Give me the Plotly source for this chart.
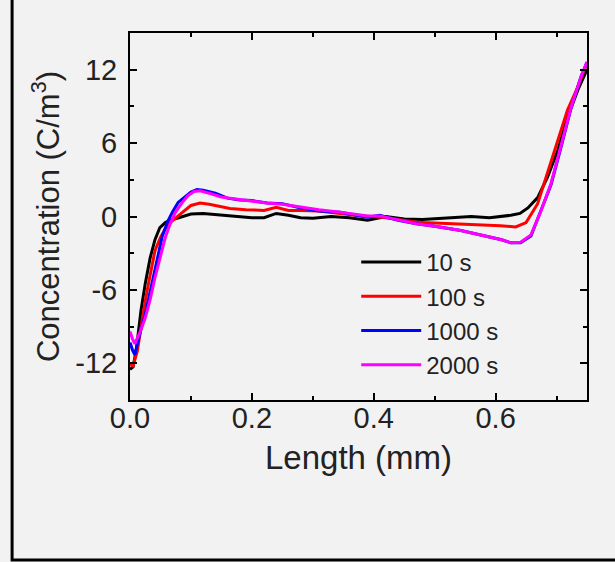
import plotly.graph_objects as go

series_names = ["10 s", "100 s", "1000 s", "2000 s"]
series_colors = ["#000000", "#ff0000", "#0000ff", "#ff00ff"]

x_10s = [0, 0.005, 0.01, 0.018, 0.025, 0.033, 0.041, 0.049, 0.058, 0.066, 0.08, 0.1, 0.12, 0.15, 0.18, 0.2, 0.22,
         0.24, 0.26, 0.28, 0.3, 0.33, 0.36, 0.39, 0.42, 0.45, 0.48, 0.51, 0.54, 0.56, 0.59, 0.61, 0.625, 0.64, 0.653,
         0.669, 0.685, 0.702, 0.718, 0.735, 0.75]
y_10s = [-12.5, -12.3, -11.0, -7.7, -5.5, -3.4, -1.9, -0.9, -0.5, -0.3, -0.1, 0.2, 0.25, 0.1, 0, -0.1, -0.1,
         0.25, 0.1, -0.1, -0.15, 0, -0.1, -0.3, 0, -0.2, -0.25, -0.15, -0.1, 0, -0.1, 0, 0.1, 0.25, 0.7,
         1.55, 3.2, 5.4, 8.1, 10.35, 12.0]

x_100s = [0, 0.005, 0.012, 0.02, 0.025, 0.033, 0.041, 0.05, 0.058, 0.066, 0.074, 0.09, 0.1, 0.115, 0.13, 0.15,
          0.164, 0.19, 0.22, 0.24, 0.26, 0.28, 0.31, 0.345, 0.38, 0.41, 0.44, 0.477, 0.51, 0.543, 0.575, 0.608,
          0.633, 0.65, 0.669, 0.685, 0.702, 0.718, 0.735, 0.75]
y_100s = [-12.1, -12.2, -11.0, -8.5, -6.9, -4.8, -2.8, -1.7, -1.0, -0.5, -0.15, 0.5, 0.9, 1.1, 1.0, 0.8,
          0.65, 0.55, 0.5, 0.75, 0.5, 0.5, 0.45, 0.25, 0.05, -0.05, -0.25, -0.5, -0.55, -0.6, -0.65, -0.75,
          -0.85, -0.5, 1.05, 3.5, 6.25, 8.7, 10.6, 12.55]

x_1000s = [0, 0.004, 0.008, 0.016, 0.025, 0.033, 0.041, 0.053, 0.062, 0.07, 0.079, 0.09, 0.1, 0.11, 0.12, 0.14,
           0.16, 0.18, 0.2, 0.225, 0.25, 0.28, 0.31, 0.345, 0.37, 0.39, 0.41, 0.44, 0.47, 0.5, 0.543, 0.57, 0.592,
           0.61, 0.625, 0.641, 0.658, 0.674, 0.691, 0.707, 0.724, 0.74, 0.75]
y_1000s = [-10.3, -10.9, -11.3, -9.6, -8.0, -6.2, -4.2, -1.6, -0.4, 0.4, 1.15, 1.6, 2.0, 2.2, 2.15, 1.9,
           1.5, 1.35, 1.3, 1.1, 1.05, 0.7, 0.45, 0.35, 0.1, -0.05, 0.1, -0.3, -0.6, -0.8, -1.15, -1.45, -1.7,
           -1.9, -2.15, -2.15, -1.6, 0.4, 2.6, 5.6, 8.9, 11.4, 12.6]

x_2000s = [0, 0.004, 0.008, 0.016, 0.025, 0.033, 0.041, 0.05, 0.058, 0.066, 0.074, 0.085, 0.095, 0.105, 0.115,
           0.13, 0.15, 0.17, 0.2, 0.225, 0.25, 0.28, 0.31, 0.345, 0.37, 0.39, 0.41, 0.44, 0.47, 0.5, 0.543, 0.57,
           0.592, 0.61, 0.625, 0.641, 0.658, 0.674, 0.691, 0.707, 0.724, 0.74, 0.75]
y_2000s = [-9.4, -10.0, -10.4, -9.5, -8.3, -6.8, -5.0, -3.2, -1.7, -0.6, 0.3, 1.1, 1.7, 2.05, 2.1,
           1.9, 1.6, 1.45, 1.25, 1.1, 1.0, 0.75, 0.55, 0.35, 0.2, 0.05, 0.05, -0.3, -0.6, -0.8, -1.15, -1.45,
           -1.7, -1.9, -2.15, -2.1, -1.5, 0.4, 2.7, 5.7, 8.95, 11.4, 12.65]

x_data = [x_10s, x_100s, x_1000s, x_2000s]
y_data = [y_10s, y_100s, y_1000s, y_2000s]

x_tickvals = [0.0, 0.2, 0.4, 0.6]
x_ticktext = ["0.0", "0.2", "0.4", "0.6"]
y_tickvals = [-12, -6, 0, 6, 12]
y_ticktext = ["-12", "-6", "0", "6", "12"]

FONT = "Liberation Sans, Arial, sans-serif"
BG = "#f2f2f2"
TXT = "#222222"

fig = go.Figure()
for i, (name, color) in enumerate(zip(series_names, series_colors)):
    fig.add_trace(go.Scatter(
        x=x_data[i], y=y_data[i], mode="lines", name=name,
        line=dict(color=color, width=3),
    ))

axis_common = dict(
    showline=True, linecolor="black", linewidth=2, mirror="ticks",
    ticks="inside", ticklen=7, tickwidth=2, tickcolor="black",
    showgrid=False, zeroline=False, automargin=False,
    tickfont=dict(family=FONT, size=29, color=TXT),
)

fig.update_layout(
    width=615, height=562,
    paper_bgcolor=BG, plot_bgcolor=BG,
    margin=dict(l=130, r=28, t=33, b=162),
    font=dict(family=FONT, color=TXT),
    xaxis=dict(
        range=[0, 0.75], tickvals=x_tickvals, ticktext=x_ticktext,
        minor=dict(ticks="inside", ticklen=4, tickwidth=2, tickcolor="black", dtick=0.1, tick0=0),
        title=dict(text="Length (mm)", font=dict(family=FONT, size=33, color=TXT), standoff=13),
        ticklabelstandoff=-9,
        **axis_common,
    ),
    yaxis=dict(
        range=[-15, 15], tickvals=y_tickvals, ticktext=y_ticktext,
        minor=dict(ticks="inside", ticklen=4, tickwidth=2, tickcolor="black", dtick=3, tick0=0),
        title=dict(text="Concentration (C/m<sup>3</sup>)", font=dict(family=FONT, size=31, color=TXT), standoff=6),
        ticklabelstandoff=5,
        **axis_common,
    ),
    legend=dict(
        x=0.495, y=0.436, xanchor="left", yanchor="top",
        bgcolor="rgba(0,0,0,0)", borderwidth=0,
        font=dict(family=FONT, size=24, color=TXT),
        itemwidth=60,
    ),
    shapes=[dict(
        type="rect", xref="paper", yref="paper",
        x0=-0.258, x1=1.1, y0=-0.436, y1=1.12,
        line=dict(color="black", width=3), fillcolor="rgba(0,0,0,0)", layer="above",
    )],
)

fig.write_html(
    "out.html",
    config={"displayModeBar": False},
    post_script="document.body.style.margin='0';document.body.style.background='#f2f2f2';document.body.style.overflow='hidden';",
)
